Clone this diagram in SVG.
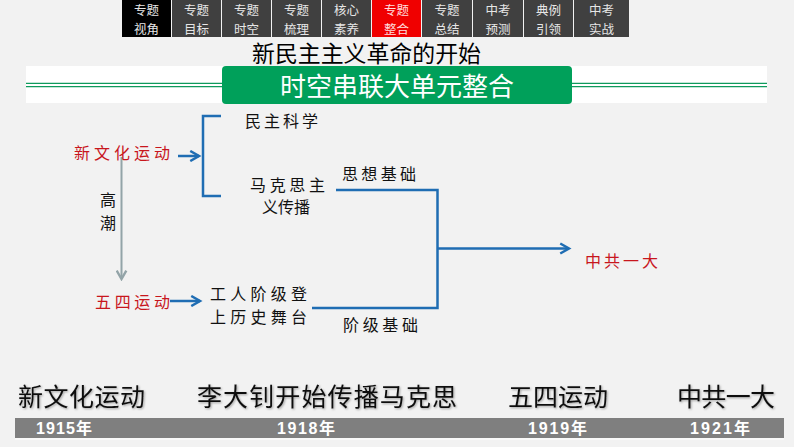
<svg xmlns="http://www.w3.org/2000/svg" width="794" height="447" viewBox="0 0 794 447">
<defs>
<style>
.nav rect{fill:#404040}
.nav text{font-family:"Noto Sans CJK SC",sans-serif;font-size:12.5px;fill:#e6e6e6;text-anchor:middle}
.lbl{font-family:"Noto Sans CJK SC",sans-serif;font-size:16px;fill:#111}
.red{fill:#c8161d}
.blue{stroke:#1f6db3;stroke-width:2.5;fill:none}
.gray{stroke:#93a4a8;stroke-width:2;fill:none}
.big{font-family:"Noto Sans CJK SC",sans-serif;font-size:25px;fill:#111;filter:url(#sh)}
.yr{font-family:"Liberation Sans","Noto Sans CJK SC",sans-serif;font-size:16px;font-weight:bold;fill:#fff}
</style>
<marker id="ab" viewBox="0 0 10 10" refX="8" refY="5" markerWidth="5" markerHeight="5" orient="auto" markerUnits="strokeWidth">
<path d="M1,1 L8,5 L1,9" fill="none" stroke="#1f6db3" stroke-width="2"/>
</marker>
<marker id="ag" viewBox="0 0 10 10" refX="8" refY="5" markerWidth="6" markerHeight="6" orient="auto" markerUnits="strokeWidth">
<path d="M1,1 L8,5 L1,9" fill="none" stroke="#93a4a8" stroke-width="2"/>
</marker>
<filter id="sh" x="-5%" y="-20%" width="110%" height="150%">
<feDropShadow dx="1" dy="1" stdDeviation="0.8" flood-color="#000" flood-opacity="0.35"/>
</filter>
</defs>
<rect width="794" height="447" fill="#f2f2f2"/>

<g id="nav" class="nav">
<rect x="122" y="0" width="49" height="37" style="fill:#000"/>
<text><tspan x="146.5" y="15.2">专题</tspan><tspan x="146.5" y="33.6">视角</tspan></text>
<rect x="172" y="0" width="49" height="37"/>
<text><tspan x="196.5" y="15.2">专题</tspan><tspan x="196.5" y="33.6">目标</tspan></text>
<rect x="222" y="0" width="49" height="37"/>
<text><tspan x="246.5" y="15.2">专题</tspan><tspan x="246.5" y="33.6">时空</tspan></text>
<rect x="272" y="0" width="49" height="37"/>
<text><tspan x="296.5" y="15.2">专题</tspan><tspan x="296.5" y="33.6">梳理</tspan></text>
<rect x="322" y="0" width="49" height="37"/>
<text><tspan x="346.5" y="15.2">核心</tspan><tspan x="346.5" y="33.6">素养</tspan></text>
<rect x="372" y="0" width="49" height="37" style="fill:#f00000"/>
<text style="fill:#ffdede"><tspan x="396.5" y="15.2">专题</tspan><tspan x="396.5" y="33.6">整合</tspan></text>
<rect x="422" y="0" width="50" height="37"/>
<text><tspan x="447" y="15.2">专题</tspan><tspan x="447" y="33.6">总结</tspan></text>
<rect x="473" y="0" width="50" height="37"/>
<text><tspan x="498" y="15.2">中考</tspan><tspan x="498" y="33.6">预测</tspan></text>
<rect x="524" y="0" width="49" height="37"/>
<text><tspan x="548.5" y="15.2">典例</tspan><tspan x="548.5" y="33.6">引领</tspan></text>
<rect x="574" y="0" width="55" height="37"/>
<text><tspan x="601.5" y="15.2">中考</tspan><tspan x="601.5" y="33.6">实战</tspan></text>
</g>

<g id="title">
<text x="252" y="62" font-family="Noto Sans CJK SC,sans-serif" font-size="22.5" fill="#000" textLength="229" lengthAdjust="spacingAndGlyphs">新民主主义革命的开始</text>
</g>

<g id="banner">
<rect x="26" y="66" width="741" height="37" fill="#ffffff"/>
<line x1="26" y1="83.3" x2="767" y2="83.3" stroke="#0e9a5c" stroke-width="1.2"/>
<line x1="26" y1="86.7" x2="767" y2="86.7" stroke="#0e9a5c" stroke-width="1.2"/>
<rect x="222" y="66" width="350" height="38" rx="4" fill="#00a05a"/>
<text x="397" y="96" font-family="Noto Sans CJK SC,sans-serif" font-size="26" fill="#fff" text-anchor="middle">时空串联大单元整合</text>
</g>

<g id="connectors">
<line class="blue" x1="178" y1="156" x2="199" y2="156" marker-end="url(#ab)"/>
<path class="blue" d="M221,116 H203 V196 H221"/>
<path class="blue" d="M336,190 H437.5 V308 H312"/>
<line class="blue" x1="437.5" y1="248.5" x2="569" y2="248.5" marker-end="url(#ab)"/>
<line class="blue" x1="170" y1="301" x2="200" y2="301" marker-end="url(#ab)"/>
<line class="gray" x1="121.5" y1="157" x2="121.5" y2="279" marker-end="url(#ag)"/>
</g>

<g id="n-xinwenhua"><text class="lbl red" x="74" y="158.5" font-size="17" textLength="96">新文化运动</text></g>
<g id="n-minzhu"><text class="lbl" x="245" y="127" textLength="73">民主科学</text></g>
<g id="n-makesi"><text class="lbl"><tspan x="250" y="191" textLength="75">马克思主</tspan><tspan x="262" y="213" textLength="48">义传播</tspan></text></g>
<g id="n-sixiang"><text class="lbl" x="342" y="180" textLength="74">思想基础</text></g>
<g id="n-gaochao"><text class="lbl"><tspan x="100" y="206">高</tspan><tspan x="100" y="229">潮</tspan></text></g>
<g id="n-wusi"><text class="lbl red" x="95" y="308" textLength="75">五四运动</text></g>
<g id="n-gongren"><text class="lbl"><tspan x="210" y="300" textLength="97">工人阶级登</tspan><tspan x="210" y="323" textLength="97">上历史舞台</tspan></text></g>
<g id="n-jieji"><text class="lbl" x="343" y="331" textLength="75">阶级基础</text></g>
<g id="n-zhonggong"><text class="lbl red" x="585" y="267" textLength="73">中共一大</text></g>

<g id="timeline">
<rect x="15" y="418" width="769" height="20" fill="#7f7f7f"/>
<line x1="15" y1="439" x2="784" y2="439" stroke="#ffffff" stroke-width="1.2"/>
<text class="big" x="18" y="405.5" textLength="127">新文化运动</text>
<text class="big" x="197" y="405.5" textLength="260">李大钊开始传播马克思</text>
<text class="big" x="508" y="405.5" textLength="100">五四运动</text>
<text class="big" x="677" y="405.5" textLength="98">中共一大</text>
<text class="yr" x="36" y="434" textLength="56">1915年</text>
<text class="yr" x="277" y="434" textLength="58">1918年</text>
<text class="yr" x="528" y="434" textLength="59">1919年</text>
<text class="yr" x="690" y="434" textLength="60">1921年</text>
</g>
</svg>
